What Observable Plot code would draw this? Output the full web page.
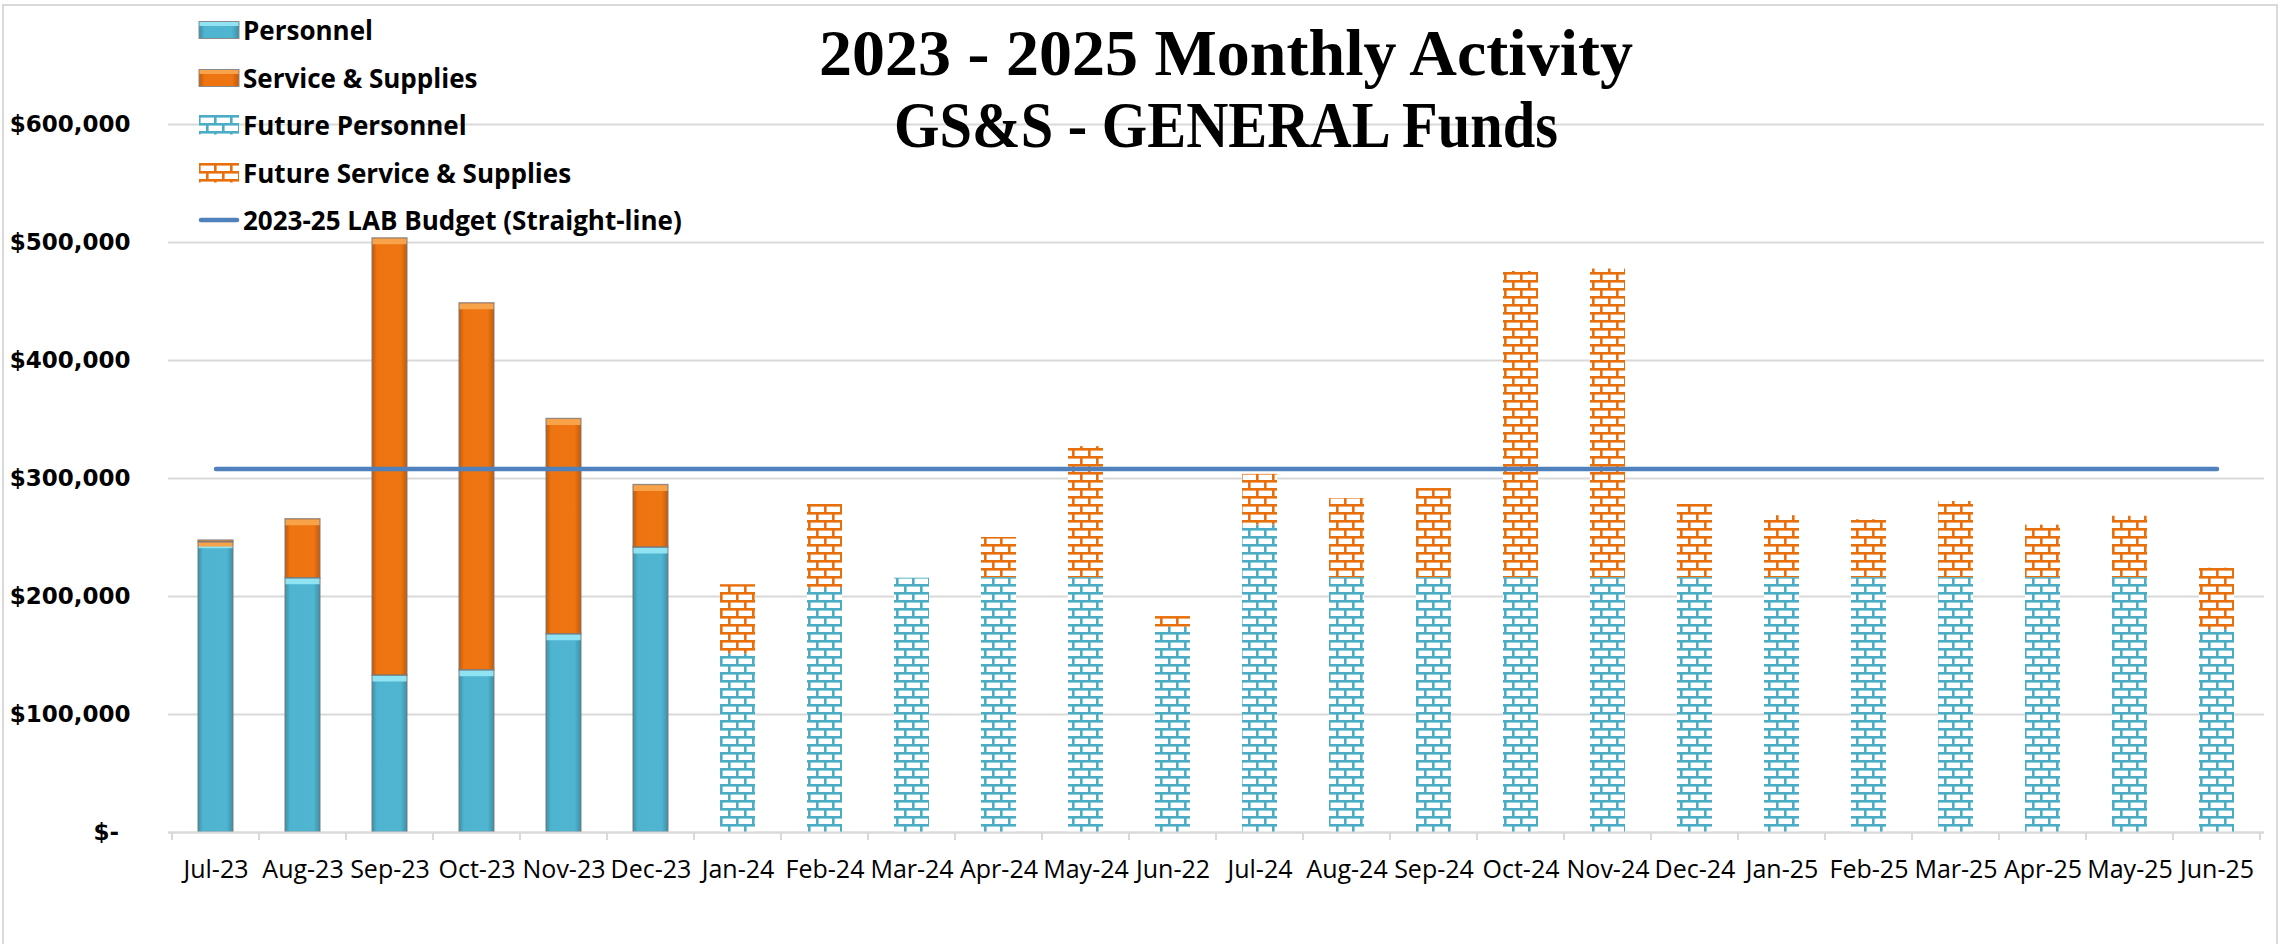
<!DOCTYPE html>
<html>
<head>
<meta charset="utf-8">
<script src="https://cdn.jsdelivr.net/npm/d3@7"></script>
<script src="https://cdn.jsdelivr.net/npm/@observablehq/plot@0.6"></script>
<style>
  html, body { margin: 0; padding: 0; background: #fff; overflow: hidden; }
  #wrap { position: relative; width: 2279px; height: 944px; overflow: hidden; }
  #chart { position: absolute; left: 0; top: 0; }
  #frame { position: absolute; left: 2px; top: 4px; width: 2276px; height: 1000px; border: 2px solid #d9d9d9; box-sizing: border-box; pointer-events: none; }
  .tline { position: absolute; left: 626px; width: 1200px; text-align: center; font-family: "Liberation Serif", serif; font-weight: bold; font-size: 66px; line-height: 72px; color: #000; white-space: nowrap; }
  .lrow { position: absolute; left: 198px; height: 36px; display: flex; align-items: center; white-space: nowrap; }
  .lrow svg { display: block; flex: none; }
  .lrow span { margin-left: 3px; font-family: "Open Sans", sans-serif; font-weight: 700; font-size: 26px; line-height: 36px; color: #000; }
</style>
</head>
<body>
<div id="wrap">
  <div id="frame"></div>
  <div id="chart"></div>
  <div class="tline" id="t1" style="top:17px"></div>
  <div class="tline" id="t2" style="top:89px; transform: scaleX(0.885); transform-origin: 600px 0;"></div>
  <div id="legend"></div>
</div>
<script>
// ---------------- data ----------------
const titleLines = ["2023 - 2025 Monthly Activity", "GS&S - GENERAL Funds"];

const actualMonths = ["Jul-23", "Aug-23", "Sep-23", "Oct-23", "Nov-23", "Dec-23"];
const actualPersonnel = [246000, 215500, 133000, 137500, 168000, 241500];
const actualServices  = [1500, 50000, 370500, 311000, 182500, 53000];

const futureMonths = ["Jan-24", "Feb-24", "Mar-24", "Apr-24", "May-24", "Jun-22", "Jul-24", "Aug-24", "Sep-24",
                      "Oct-24", "Nov-24", "Dec-24", "Jan-25", "Feb-25", "Mar-25", "Apr-25", "May-25", "Jun-25"];
const futurePersonnel = [151500, 207000, 215500, 216000, 216000, 174000, 260500, 216000, 216000,
                         216000, 216000, 216000, 216000, 216000, 216000, 216000, 216000, 172000];
const futureServices  = [58500, 71000, -800, 34000, 111000, 9000, 43000, 67000, 75500,
                         259500, 261500, 62000, 52500, 49000, 64500, 44500, 52000, 52000];

const budgetValue = 308000;
const yTicks = [0, 100000, 200000, 300000, 400000, 500000, 600000];

const seriesNames = ["Personnel", "Service & Supplies", "Future Personnel", "Future Service & Supplies",
                     "2023-25 LAB Budget (Straight-line)"];

// ---------------- tables ----------------
const months = actualMonths.concat(futureMonths);
const rows = [];
actualMonths.forEach((m, i) => rows.push({month: m, kind: seriesNames[0], layer: 0, value: actualPersonnel[i]}));
futureMonths.forEach((m, i) => rows.push({month: m, kind: seriesNames[2], layer: 0, value: futurePersonnel[i]}));
actualMonths.forEach((m, i) => rows.push({month: m, kind: seriesNames[1], layer: 1, value: actualServices[i]}));
futureMonths.forEach((m, i) => rows.push({month: m, kind: seriesNames[3], layer: 1, value: futureServices[i]}));
const actualRows = rows.filter(d => actualMonths.includes(d.month));
const budgetRows = months.map(m => ({month: m, value: budgetValue}));

// ---------------- styles ----------------
const NS = "http://www.w3.org/2000/svg";
const blueLine = "#4bacc6", orangeLine = "#e8700c";
const defsHTML = `
<defs>
  <linearGradient id="gBlue" x1="0" x2="1" y1="0" y2="0">
    <stop offset="0" stop-color="#3a90a8"/><stop offset="0.14" stop-color="#4fb4cf"/>
    <stop offset="0.82" stop-color="#50b5d0"/><stop offset="1" stop-color="#3b8fa7"/>
  </linearGradient>
  <linearGradient id="gOrange" x1="0" x2="1" y1="0" y2="0">
    <stop offset="0" stop-color="#c25908"/><stop offset="0.14" stop-color="#ed7410"/>
    <stop offset="0.82" stop-color="#ee7511"/><stop offset="1" stop-color="#c45a09"/>
  </linearGradient>
  <pattern id="brickBlue" patternUnits="userSpaceOnUse" width="16" height="16">
    <rect width="16" height="16" fill="#fff"/>
    <g fill="${blueLine}">
      <rect x="0" y="0" width="16" height="2.6"/><rect x="0" y="0" width="2.6" height="8"/>
      <rect x="0" y="8" width="16" height="2.6"/><rect x="8" y="8" width="2.6" height="8"/>
    </g>
  </pattern>
  <pattern id="brickOrange" patternUnits="userSpaceOnUse" width="16" height="16">
    <rect width="16" height="16" fill="#fff"/>
    <g fill="${orangeLine}">
      <rect x="0" y="0" width="16" height="2.6"/><rect x="0" y="0" width="2.6" height="8"/>
      <rect x="0" y="8" width="16" height="2.6"/><rect x="8" y="8" width="2.6" height="8"/>
    </g>
  </pattern>
</defs>`;

function defsMark() {
  const g = document.createElementNS(NS, "g");
  g.innerHTML = defsHTML;
  return g;
}

// category boundary ticks below the x axis, positioned from the band scale
function boundaryTicks(index, scales, values, dims) {
  const x = scales.x, y = scales.y;
  const g = document.createElementNS(NS, "g");
  const n = months.length;
  const step = typeof x.step === "function" ? x.step() : (dims.width - dims.marginLeft - dims.marginRight) / n;
  const bw = typeof x.bandwidth === "function" ? x.bandwidth() : step * 0.4;
  const off = (step - bw) / 2;
  const y0 = y(0);
  const edges = months.map(m => x(m) - off).concat([x(months[n - 1]) - off + step]);
  for (const e of edges) {
    const l = document.createElementNS(NS, "line");
    l.setAttribute("x1", e); l.setAttribute("x2", e);
    l.setAttribute("y1", y0); l.setAttribute("y2", y0 + 8);
    l.setAttribute("stroke", "#d9d9d9"); l.setAttribute("stroke-width", 2);
    g.appendChild(l);
  }
  return g;
}

const yFmt = d => d === 0 ? "$-\u2002" : "$" + d3.format(",")(d);

const chart = Plot.plot({
  width: 2279,
  height: 944,
  marginLeft: 168,
  marginRight: 15,
  marginTop: 124,
  marginBottom: 112,
  x: {domain: months, paddingInner: 0.6, paddingOuter: 0.3, label: null},
  y: {domain: [0, 600000], label: null},
  color: {
    domain: [seriesNames[0], seriesNames[1], seriesNames[2], seriesNames[3], "P-top", "S-top"],
    range: ["url(#gBlue)", "url(#gOrange)", "url(#brickBlue)", "url(#brickOrange)", "#8fe3f3", "#f8a24a"]
  },
  style: {background: "transparent", color: "#000", overflow: "visible"},
  marks: [
    defsMark,
    Plot.gridY({ticks: yTicks, stroke: "#d9d9d9", strokeOpacity: 1, strokeWidth: 2}),
    Plot.barY(rows, Plot.stackY({x: "month", y: "value", z: "layer", fill: "kind"})),
    Plot.tickY(actualRows, Plot.stackY2({x: "month", y: "value", z: "layer",
      stroke: d => d.layer === 0 ? "P-top" : "S-top", strokeWidth: 6, dy: 3})),
    Plot.barY(actualRows, Plot.stackY({x: "month", y: "value", z: "layer",
      fill: "none", stroke: "#7a7a7a", strokeOpacity: 0.75, strokeWidth: 1.3})),
    Plot.ruleY([0], {stroke: "#d9d9d9", strokeWidth: 2}),
    boundaryTicks,
    Plot.lineY(budgetRows, {x: "month", y: "value", stroke: "#4f81bd", strokeWidth: 4.5, strokeLinecap: "round"}),
    Plot.axisY({ticks: yTicks, tickFormat: yFmt, tickSize: 0, tickPadding: 38,
      fontSize: 23, fontFamily: "DejaVu Sans", fontWeight: "bold", label: null}),
    Plot.axisX({tickSize: 0, tickPadding: 28, fontSize: 25, fontFamily: "Open Sans", label: null})
  ]
});
document.getElementById("chart").appendChild(chart);

// ---------------- title ----------------
document.getElementById("t1").textContent = titleLines[0];
document.getElementById("t2").textContent = titleLines[1];

// ---------------- legend ----------------
const swatches = [
  `<svg width="42" height="20"><rect x="1" y="1.5" width="40" height="17" fill="url(#gBlue)" stroke="#8a8a8a" stroke-width="1"/><rect x="1.5" y="2" width="39" height="4" fill="#8fe3f3"/></svg>`,
  `<svg width="42" height="20"><rect x="1" y="1.5" width="40" height="17" fill="url(#gOrange)" stroke="#8a8a8a" stroke-width="1"/><rect x="1.5" y="2" width="39" height="4" fill="#f8a24a"/></svg>`,
  `<svg width="42" height="20"><rect x="1" y="0" width="40" height="19.5" fill="url(#brickBlue)"/></svg>`,
  `<svg width="42" height="20"><rect x="1" y="0" width="40" height="19.5" fill="url(#brickOrange)"/></svg>`,
  `<svg width="42" height="20"><line x1="3" x2="39" y1="10" y2="10" stroke="#4f81bd" stroke-width="4.5" stroke-linecap="round"/></svg>`
];
const legend = document.getElementById("legend");
seriesNames.forEach((name, i) => {
  const row = document.createElement("div");
  row.className = "lrow";
  row.style.top = (12 + i * 47.5) + "px";
  row.innerHTML = swatches[i];
  const span = document.createElement("span");
  span.textContent = name;
  row.appendChild(span);
  legend.appendChild(row);
});
</script>
</body>
</html>
